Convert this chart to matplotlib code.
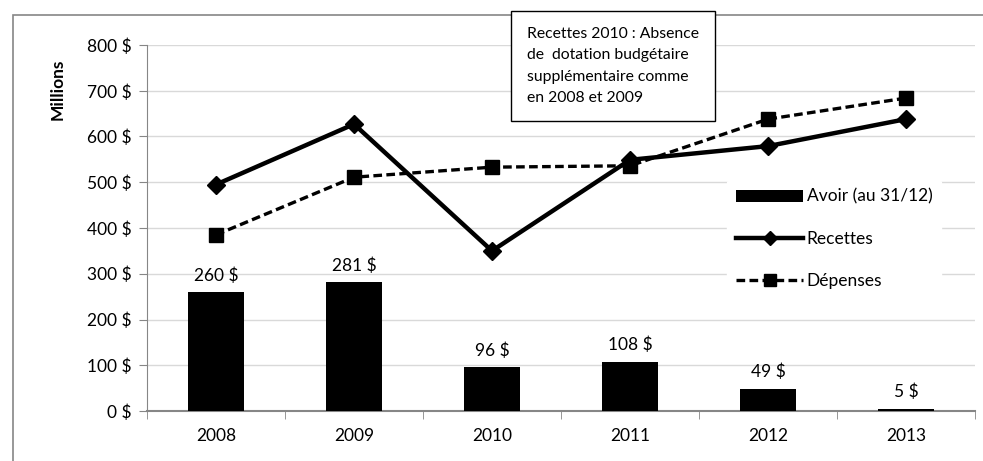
import numpy as np
import matplotlib.pyplot as plt
from matplotlib.patches import Rectangle

annees = ["2008", "2009", "2010", "2011", "2012", "2013"]
avoir = [260, 281, 96, 108, 49, 5]
recettes = [495, 627, 350, 549, 579, 638]
depenses = [385, 511, 533, 536, 638, 684]
yticks = [0, 100, 200, 300, 400, 500, 600, 700, 800]

plt.rcParams["font.family"] = ["Lato", "DejaVu Sans"]
gris = "#868686"
fs = 12.5

fig = plt.figure(figsize=(9.83, 4.61), dpi=100)
# cadre extérieur du graphique (coupé à droite et en bas)
fig.patches.append(Rectangle((13 / 983, -0.1), 1.2, 1 - 15 / 461 + 0.1,
                             transform=fig.transFigure, fill=False,
                             edgecolor=gris, linewidth=1.2))

ax = fig.add_axes([147 / 983, 50 / 461, (975 - 147) / 983, (411 - 45) / 461])
x = np.arange(len(annees))

b = ax.bar(x, avoir, width=0.4, color="black", label="Avoir (au 31/12)", zorder=3)
l1, = ax.plot(x, recettes, color="black", linewidth=3.2, marker="D", markersize=9,
              label="Recettes", zorder=4)
l2, = ax.plot(x, depenses, color="black", linewidth=2.4, linestyle=(0, (2.6, 1.3)),
              marker="s", markersize=10.5, label="Dépenses", zorder=4)

for xi, v in zip(x, avoir):
    ax.text(xi, v + 18, f"{v} $", ha="center", va="bottom", fontsize=fs)

ax.set_xlim(-0.5, len(annees) - 0.5)
ax.set_ylim(0, 800)
ax.set_yticks(yticks)
ax.set_yticklabels([f"{v} $" for v in yticks], fontsize=fs)
ax.set_xticks(x)
ax.set_xticklabels(annees, fontsize=fs)
ax.set_xticks(np.arange(-0.5, len(annees)), minor=True)
ax.tick_params(axis="x", which="major", length=0, pad=12)
ax.tick_params(axis="x", which="minor", length=6, color=gris, direction="out")
ax.tick_params(axis="y", length=6, color=gris, pad=5)
ax.yaxis.grid(True, color="#d9d9d9", linewidth=1)
ax.set_axisbelow(True)
for s in ["top", "right"]:
    ax.spines[s].set_visible(False)
ax.spines["left"].set_color(gris)
ax.spines["bottom"].set_color(gris)
ax.spines["bottom"].set_linewidth(1.5)
ax.set_ylabel("Millions", fontsize=fs, fontweight="bold")
ax.yaxis.set_label_coords(-0.098, 0.88)

leg = ax.legend([b, l1, l2], ["Avoir (au 31/12)", "Recettes", "Dépenses"],
                loc="upper left", bbox_to_anchor=(0.69, 0.655), frameon=True,
                fontsize=fs, handlelength=3.9, labelspacing=1.5,
                markerscale=0.8, handletextpad=0.2, borderpad=0.5)
leg.get_frame().set_edgecolor("white")
leg.get_frame().set_facecolor("white")
leg.get_frame().set_alpha(1)

fig.text(527 / 983, 1 - 27 / 461,
         "Recettes 2010 : Absence\nde  dotation budgétaire\nsupplémentaire comme\nen 2008 et 2009",
         fontsize=11.3, va="top", ha="left", linespacing=1.66,
         bbox=dict(boxstyle="square,pad=1.05", facecolor="white",
                   edgecolor="black", linewidth=1))

fig.savefig("out.png", dpi=100)
